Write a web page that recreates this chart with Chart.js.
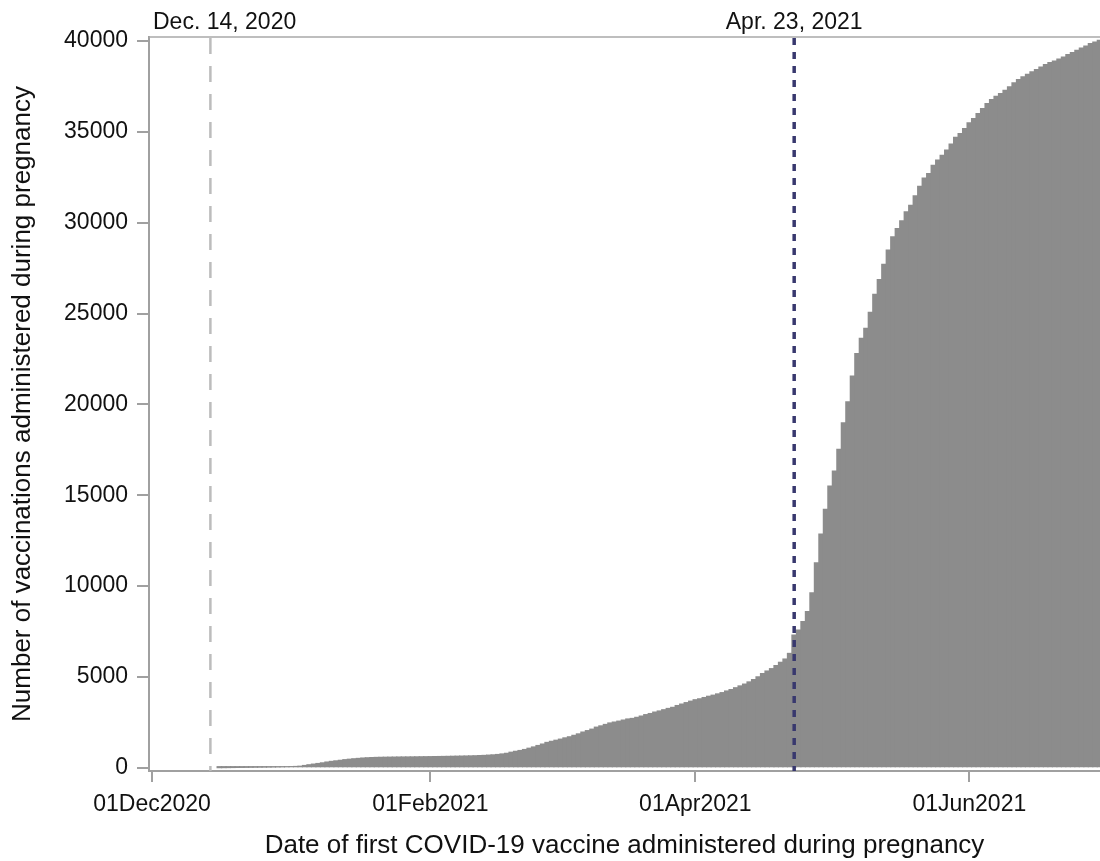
<!DOCTYPE html>
<html>
<head>
<meta charset="utf-8">
<script src="https://cdn.jsdelivr.net/npm/chart.js@4"></script>
<style>
  body { margin: 0; background: #fff; }
  #wrap { width: 1100px; height: 861px; }
</style>
</head>
<body>
<div id="wrap"><canvas id="chart"></canvas></div>
<script>
// day index: 0 = 01Dec2020
const firstDay = 15; // first bar is 16Dec2020
const cumulative = [
  3, 6, 9, 12, 15, 18, 21, 24, 27, 30, 33, 36, 40, 44, 48, 52, 58, 66, 80,
  120, 160, 195, 230, 265, 310, 345, 375, 405, 440, 465, 490, 510, 530, 545, 555, 565,
  570, 575, 578, 582, 585, 588, 590, 593, 596, 600, 603, 606, 610, 614, 618, 622, 627,
  632, 637, 642, 648, 655, 665, 675, 690, 705,
  725, 755, 790, 850, 900, 945, 1000, 1070, 1140, 1220,
  1300, 1390, 1450, 1510, 1570, 1640, 1700, 1780, 1860, 1960, 2040, 2120, 2230, 2300,
  2380, 2460, 2510, 2560, 2620, 2680, 2710, 2770, 2840, 2920, 2980, 3060, 3120, 3190,
  3260, 3320, 3420, 3500, 3580, 3660, 3740, 3790, 3860, 3930, 3990, 4060, 4130, 4220,
  4300, 4400, 4500, 4600, 4720, 4850, 5000, 5180, 5320, 5450, 5620, 5800, 5980, 6290,
  7300, 7580, 8040, 8590, 9630, 11280, 12860, 14220, 15500, 16330, 17520, 18980, 20140,
  21550, 22800, 23630, 24180, 25060, 26050, 26870, 27700, 28490,
  29220, 29680, 30100, 30590, 30960, 31470, 32000, 32460, 32700, 33160, 33440, 33710,
  33990, 34320, 34690, 34900, 35180, 35490, 35730, 36000, 36280, 36560, 36780, 36960,
  37105, 37290, 37470, 37690, 37875, 38020, 38170, 38295, 38425, 38570, 38700, 38810,
  38900, 39010, 39120, 39255, 39365, 39490, 39615, 39725, 39855, 39945, 40040
];
const xTickDays = [0, 62, 121, 182];
const xTickLabels = ['01Dec2020', '01Feb2021', '01Apr2021', '01Jun2021'];
const yTicks = [0, 5000, 10000, 15000, 20000, 25000, 30000, 35000, 40000];
const refDays = [13, 143];
const refLabels = ['Dec. 14, 2020', 'Apr. 23, 2021'];

const FONT = "'Liberation Sans', Arial, sans-serif";
const AXIS = '#a0a0a0';
const INK = '#111111';

const points = cumulative.map((v, i) => ({ x: firstDay + i, y: v }));

const refLinePlugin = {
  id: 'refLines',
  afterDatasetsDraw(chart) {
    const { ctx, chartArea, scales } = chart;
    ctx.save();
    // top frame line
    ctx.strokeStyle = '#a8a8a8';
    ctx.lineWidth = 1.5;
    ctx.beginPath();
    ctx.moveTo(chartArea.left, chartArea.top);
    ctx.lineTo(chartArea.right, chartArea.top);
    ctx.stroke();

    const styles = [
      { color: '#bcbcbc', width: 2.5, dash: [16, 12] },
      { color: '#38386e', width: 3.5, dash: [7, 7] }
    ];
    refDays.forEach((d, i) => {
      const x = scales.x.getPixelForValue(d);
      const s = styles[i];
      ctx.strokeStyle = s.color;
      ctx.lineWidth = s.width;
      ctx.setLineDash(s.dash);
      ctx.beginPath();
      ctx.moveTo(x, chartArea.top + 1);
      ctx.lineTo(x, chartArea.bottom);
      ctx.stroke();
      ctx.setLineDash([]);

      ctx.font = '23px ' + FONT;
      ctx.fillStyle = INK;
      ctx.textBaseline = 'alphabetic';
      const w = ctx.measureText(refLabels[i]).width;
      let left = x - w / 2;
      if (left < chartArea.left + 4) left = chartArea.left + 4;
      ctx.textAlign = 'left';
      ctx.fillText(refLabels[i], left, chartArea.top - 8.5);
    });
    ctx.restore();
  }
};

new Chart(document.getElementById('chart'), {
  type: 'bar',
  data: {
    datasets: [{
      data: points,
      backgroundColor: '#8c8c8c',
      borderWidth: 0,
      inflateAmount: 0.6,
      barPercentage: 1,
      categoryPercentage: 1
    }]
  },
  options: {
    responsive: true,
    maintainAspectRatio: false,
    animation: false,
    layout: { padding: { top: 37, left: 0, right: 0, bottom: 0 } },
    plugins: { legend: { display: false }, tooltip: { enabled: false } },
    scales: {
      x: {
        type: 'linear',
        offset: false,
        min: -0.67,
        max: 211.1,
        afterBuildTicks: (scale) => { scale.ticks = xTickDays.map(v => ({ value: v })); },
        afterFit: (scale) => { scale.height = 90; },
        ticks: {
          autoSkip: false,
          maxRotation: 0,
          padding: 9,
          color: INK,
          font: { family: FONT, size: 23 },
          callback: (v) => xTickLabels[xTickDays.indexOf(v)]
        },
        grid: { offset: false, drawOnChartArea: false, color: AXIS, lineWidth: 2, tickLength: 11 },
        border: { display: true, color: AXIS, width: 2 },
        title: {
          display: true,
          text: 'Date of first COVID-19 vaccine administered during pregnancy',
          color: INK,
          font: { family: FONT, size: 26 },
          padding: { top: 0, bottom: 0 }
        }
      },
      y: {
        min: -182,
        max: 40220,
        afterBuildTicks: (scale) => { scale.ticks = yTicks.map(v => ({ value: v })); },
        afterFit: (scale) => { scale.width = 149; },
        ticks: {
          padding: 9,
          color: INK,
          font: { family: FONT, size: 23 },
          callback: (v) => String(v)
        },
        grid: { drawOnChartArea: false, color: AXIS, lineWidth: 2, tickLength: 12 },
        border: { display: true, color: AXIS, width: 2 },
        title: {
          display: true,
          text: 'Number of vaccinations administered during pregnancy',
          color: INK,
          font: { family: FONT, size: 26 },
          padding: { top: 7, bottom: 0 }
        }
      }
    }
  },
  plugins: [refLinePlugin]
});
</script>
</body>
</html>
